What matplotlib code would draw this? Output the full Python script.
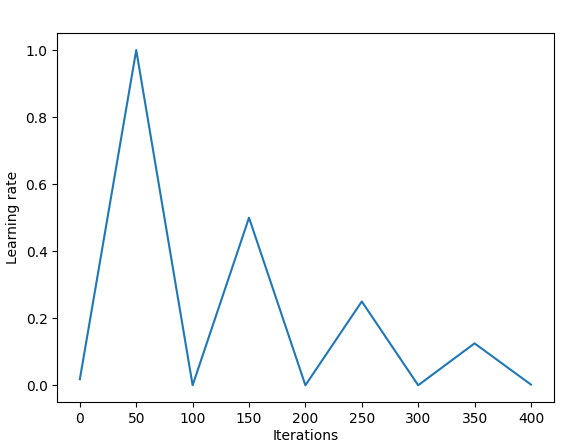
import numpy as np
import matplotlib
matplotlib.use("Agg")
import matplotlib.pyplot as plt

# learning rate schedule
iterations = [0, 50, 100, 150, 200, 250, 300, 350, 400]
learning_rate = [0.018, 1.0, 0.0, 0.5, 0.0, 0.25, 0.0, 0.125, 0.002]

fig = plt.figure(figsize=(5.77, 4.45), dpi=100)
ax = fig.add_axes([0.0993, 0.0966, 0.860, 0.8285])
ax.plot(iterations, learning_rate, color="#1f77b4")

ax.set_xticks(iterations)
ax.set_xlabel("Iterations", labelpad=2)
ax.set_ylabel("Learning rate")

fig.savefig("out.png", dpi=100)
